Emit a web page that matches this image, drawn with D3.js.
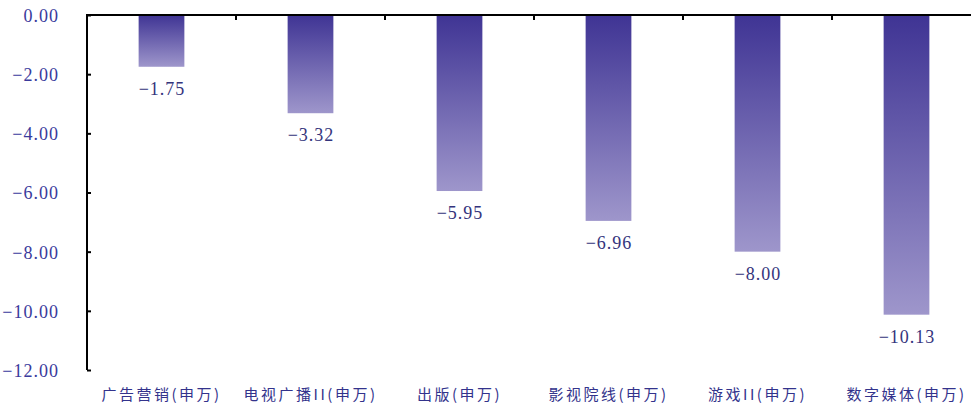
<!DOCTYPE html>
<html>
<head>
<meta charset="utf-8">
<script src="https://cdn.jsdelivr.net/npm/d3@7"></script>
<style>
  html, body { margin: 0; padding: 0; background: #fff; }
  svg { display: block; }
</style>
</head>
<body>
<svg id="chart" width="971" height="405"></svg>
<script>
// Industry categories (SW classification) and their change values
const categories = ["广告营销(申万)", "电视广播II(申万)", "出版(申万)", "影视院线(申万)", "游戏II(申万)", "数字媒体(申万)"];
const values = [-1.75, -3.32, -5.95, -6.96, -8.00, -10.13];
const yTicks = [0, -2, -4, -6, -8, -10, -12];

const W = 971, H = 405;
const plotLeft = 87, plotTop = 15, plotBottom = 370, plotRight = 981;

const svg = d3.select("#chart");

const x = d3.scaleBand().domain(categories).range([plotLeft, plotRight]).padding(0);
const y = d3.scaleLinear().domain([0, -12]).range([plotTop, plotBottom]);

const fmt = v => d3.format(".2f")(v).replace("-", "\u2212");

// vertical gradient for each bar: deep indigo at the top fading to lavender
const defs = svg.append("defs");
const grad = defs.append("linearGradient")
  .attr("id", "barGrad").attr("x1", 0).attr("y1", 0).attr("x2", 0).attr("y2", 1);
grad.append("stop").attr("offset", "0%").attr("stop-color", "#3f3494");
grad.append("stop").attr("offset", "100%").attr("stop-color", "#9e96cb");

const barW = x.bandwidth() * 0.307;

svg.append("g").selectAll("rect")
  .data(categories)
  .join("rect")
  .attr("x", (d) => x(d) + x.bandwidth() / 2 - barW / 2)
  .attr("y", y(0))
  .attr("width", barW)
  .attr("height", (d, i) => y(values[i]) - y(0))
  .attr("fill", "url(#barGrad)");

// value labels under each bar end
svg.append("g").selectAll("text")
  .data(categories)
  .join("text")
  .attr("x", (d) => x(d) + x.bandwidth() / 2 + 0.5)
  .attr("y", (d, i) => y(values[i]) + 28)
  .attr("text-anchor", "middle")
  .attr("font-family", "'Liberation Serif', 'DejaVu Serif', serif")
  .attr("font-size", 18)
  .attr("letter-spacing", 1)
  .attr("fill", "#34347c")
  .text((d, i) => fmt(values[i]));

// left value axis, ticks pointing inward
const yAxis = d3.axisLeft(y)
  .tickValues(yTicks)
  .tickSize(-4)
  .tickPadding(28)
  .tickFormat(fmt);

const gy = svg.append("g").attr("transform", `translate(${plotLeft},0)`).call(yAxis);
gy.select(".domain").attr("stroke", "#000").attr("stroke-width", 2)
  .attr("d", `M0,${y(-12)}V${y(0)}`);
gy.selectAll(".tick line").attr("stroke", "#000").attr("stroke-width", 2);
gy.selectAll(".tick text")
  .attr("font-family", "'Liberation Serif', 'DejaVu Serif', serif")
  .attr("font-size", 18)
  .attr("letter-spacing", 1)
  .attr("fill", "#3a3a9c")
  .attr("dy", "0.36em");

// zero line along the top with separators between categories
const gx = svg.append("g");
gx.append("line")
  .attr("x1", plotLeft - 1).attr("x2", W)
  .attr("y1", y(0)).attr("y2", y(0))
  .attr("stroke", "#000").attr("stroke-width", 2);
gx.selectAll(".sep")
  .data(categories.slice(1))
  .join("line")
  .attr("class", "sep")
  .attr("x1", (d) => x(d)).attr("x2", (d) => x(d))
  .attr("y1", y(0)).attr("y2", y(0) + 5)
  .attr("stroke", "#000").attr("stroke-width", 2);

// category labels along the bottom
svg.append("g").selectAll("text")
  .data(categories)
  .join("text")
  .attr("x", (d) => x(d) + x.bandwidth() / 2)
  .attr("y", 400)
  .attr("text-anchor", "middle")
  .attr("font-family", "'Noto Sans CJK SC', sans-serif")
  .attr("font-size", 15)
  .attr("letter-spacing", 2.5)
  .attr("fill", "#33338c")
  .text((d) => d);
</script>
</body>
</html>
